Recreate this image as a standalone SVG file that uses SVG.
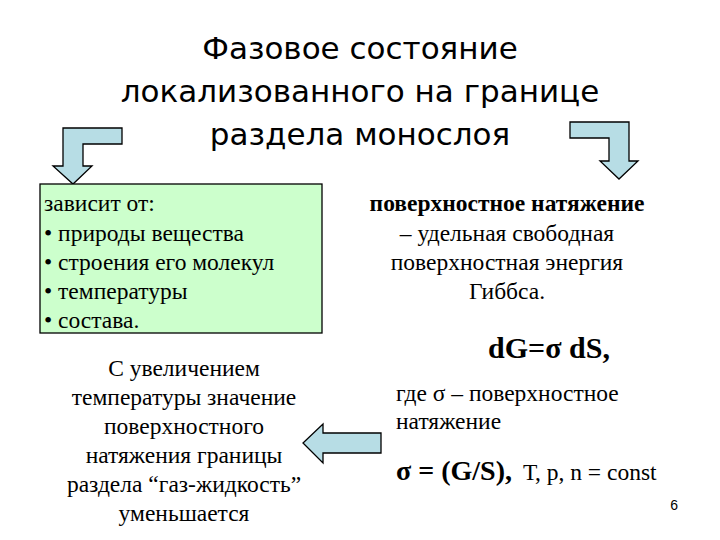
<svg xmlns="http://www.w3.org/2000/svg" width="720" height="540" viewBox="0 0 720 540">
<style>
.t{font-family:"DejaVu Sans","Liberation Sans",sans-serif;font-size:31px;fill:#000;text-anchor:middle}
.s{font-family:"Liberation Serif",serif;font-size:23.5px;fill:#000}
.b{font-weight:bold}
.arr{fill:#b7dde5;stroke:#000;stroke-width:1.3}
</style>
<rect width="720" height="540" fill="#fff"/>
<g id="title">
<text class="t" x="360" y="59">Фазовое состояние</text>
<text class="t" x="360" y="102">локализованного на границе</text>
<text class="t" x="360" y="145">раздела монослоя</text>
</g>
<g id="connectors">
<path class="arr" d="M122,128 L63,128 L63,166 L53,166 L73,184 L92,166 L83,166 L83,144 L122,144 Z"/>
<path class="arr" d="M570,122 L629,122 L629,161 L638,161 L619,179 L600,161 L609,161 L609,138 L570,138 Z"/>
<path class="arr" d="M381,433 L323,433 L323,424 L303,443 L323,463 L323,453 L381,453 Z"/>
</g>
<g id="factors">
<rect x="40" y="184" width="282" height="149" fill="#ccffcc" stroke="#000" stroke-width="1.3"/>
<text class="s" x="44" y="211">зависит от:</text>
<text class="s" x="44" y="241">• природы вещества</text>
<text class="s" x="44" y="270">• строения его молекул</text>
<text class="s" x="44" y="299">• температуры</text>
<text class="s" x="44" y="328">• состава.</text>
</g>
<g id="tension">
<text class="s b" x="507" y="211" text-anchor="middle">поверхностное натяжение</text>
<text class="s" x="507" y="241" text-anchor="middle">– удельная свободная</text>
<text class="s" x="507" y="270" text-anchor="middle">поверхностная энергия</text>
<text class="s" x="507" y="299" text-anchor="middle">Гиббса.</text>
</g>
<g id="formula1">
<text class="s b" x="549" y="358" text-anchor="middle" style="font-size:30px">dG=σ dS,</text>
</g>
<g id="where">
<text class="s" x="396" y="401">где σ – поверхностное</text>
<text class="s" x="396" y="429">натяжение</text>
</g>
<g id="formula2">
<text class="s" x="396" y="480"><tspan class="b" style="font-size:28px">σ = (G/S),</tspan><tspan dx="11">Т, р, n = const</tspan></text>
</g>
<g id="temp">
<text class="s" x="184" y="376" text-anchor="middle">С увеличением</text>
<text class="s" x="184" y="405" text-anchor="middle">температуры значение</text>
<text class="s" x="184" y="434" text-anchor="middle">поверхностного</text>
<text class="s" x="184" y="463" text-anchor="middle">натяжения границы</text>
<text class="s" x="184" y="492" text-anchor="middle">раздела “газ-жидкость”</text>
<text class="s" x="184" y="521" text-anchor="middle">уменьшается</text>
</g>
<text x="678" y="510" style="font-family:'Liberation Sans',sans-serif;font-size:14px" text-anchor="end">6</text>
</svg>
